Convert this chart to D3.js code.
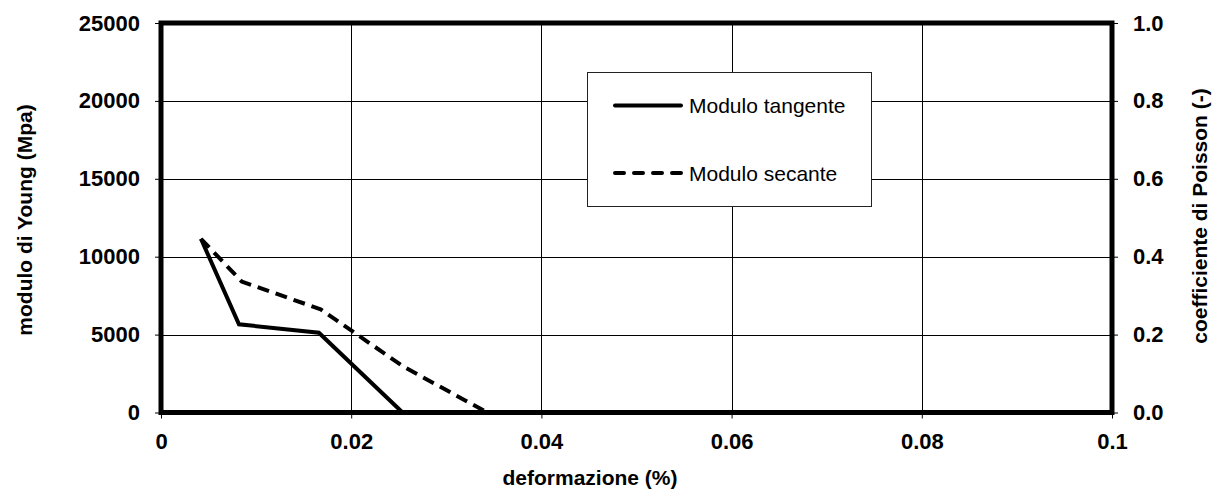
<!DOCTYPE html>
<html>
<head>
<meta charset="utf-8">
<script src="https://cdn.jsdelivr.net/npm/d3@7"></script>
<style>
  html, body { margin: 0; padding: 0; background: #fff; }
  svg { display: block; }
  text { font-family: "Liberation Sans", Arial, sans-serif; fill: #000; }
</style>
</head>
<body>
<svg id="chart" width="1212" height="490"></svg>
<script>
// ---- data ----
const xTicks = [0, 0.02, 0.04, 0.06, 0.08, 0.1];
const xTickLabels = ["0", "0.02", "0.04", "0.06", "0.08", "0.1"];
const yLeftTicks = [0, 5000, 10000, 15000, 20000, 25000];
const yRightTicks = [0, 0.2, 0.4, 0.6, 0.8, 1.0];
const yRightTickLabels = ["0.0", "0.2", "0.4", "0.6", "0.8", "1.0"];

const seriesNames = ["Modulo tangente", "Modulo secante"];
const tangenteX = [0.0042, 0.0082, 0.0166, 0.0254];
const tangenteY = [11150, 5660, 5120, 0];
const secanteX = [0.0042, 0.0085, 0.0168, 0.0255, 0.0343];
const secanteY = [11150, 8400, 6620, 2940, 0];

const xTitle = "deformazione (%)";
const yLeftTitle = "modulo di Young (Mpa)";
const yRightTitle = "coefficiente di Poisson (-)";

// ---- layout ----
const svg = d3.select("#chart");
const L = 161, R = 1112, T = 23, B = 412.5;

const x = d3.scaleLinear().domain([0, 0.1]).range([L, R]);
const y = d3.scaleLinear().domain([0, 25000]).range([B, T]);
const y2 = d3.scaleLinear().domain([0, 1]).range([B, T]);

// gridlines
const grid = svg.append("g");
grid.selectAll("line.gx").data(xTicks.slice(1, -1)).join("line")
  .attr("x1", d => Math.round(x(d)) + 0.5).attr("x2", d => Math.round(x(d)) + 0.5)
  .attr("y1", T).attr("y2", B)
  .attr("stroke", "#000").attr("stroke-width", 1);
grid.selectAll("line.gy").data(yLeftTicks.slice(1, -1)).join("line")
  .attr("x1", L).attr("x2", R)
  .attr("y1", d => Math.round(y(d)) + 0.5).attr("y2", d => Math.round(y(d)) + 0.5)
  .attr("stroke", "#000").attr("stroke-width", 1);

// axes
const fontTick = 22;
const xAxis = svg.append("g").attr("transform", `translate(0,${B})`)
  .call(d3.axisBottom(x).tickValues(xTicks).tickFormat((d, i) => xTickLabels[i]).tickSize(6).tickPadding(15));
const yAxis = svg.append("g").attr("transform", `translate(${L},0)`)
  .call(d3.axisLeft(y).tickValues(yLeftTicks).tickFormat(d3.format("d")).tickSize(6).tickPadding(15));
const yAxis2 = svg.append("g").attr("transform", `translate(${R},0)`)
  .call(d3.axisRight(y2).tickValues(yRightTicks).tickFormat((d, i) => yRightTickLabels[i]).tickSize(6).tickPadding(15));
[xAxis, yAxis, yAxis2].forEach(a => {
  a.select(".domain").remove();
  a.selectAll(".tick line").attr("stroke", "#000").attr("stroke-width", 1);
  a.selectAll(".tick text").attr("font-size", fontTick).attr("font-weight", "bold")
    .attr("font-family", "'Liberation Sans', Arial, sans-serif").attr("fill", "#000");
});

// series
const line = d3.line().x(d => x(d[0])).y(d => y(d[1]));
const tanData = tangenteX.map((v, i) => [v, tangenteY[i]]);
const secData = secanteX.map((v, i) => [v, secanteY[i]]);

svg.append("path").datum(tanData).attr("d", line)
  .attr("fill", "none").attr("stroke", "#000").attr("stroke-width", 4)
  .attr("stroke-linejoin", "miter");
svg.append("path").datum(secData).attr("d", line)
  .attr("fill", "none").attr("stroke", "#000").attr("stroke-width", 4)
  .attr("stroke-dasharray", "12,7").attr("stroke-linejoin", "round");

// frame
svg.append("rect").attr("x", L).attr("y", T).attr("width", R - L).attr("height", B - T)
  .attr("fill", "none").attr("stroke", "#000").attr("stroke-width", 5);

// legend
const lg = svg.append("g");
lg.append("rect").attr("x", 587.5).attr("y", 72.5).attr("width", 284).attr("height", 134)
  .attr("fill", "#fff").attr("stroke", "#222").attr("stroke-width", 1);
const legY = [105.5, 173];
seriesNames.forEach((name, i) => {
  lg.append("line").attr("x1", 615).attr("x2", 681).attr("y1", legY[i]).attr("y2", legY[i])
    .attr("stroke", "#000").attr("stroke-width", 4).attr("stroke-linecap", "round")
    .attr("stroke-dasharray", i === 1 ? "9,10" : null);
  lg.append("text").attr("x", 689).attr("y", legY[i] + 7.5)
    .attr("font-size", 21).text(name);
});

// titles
svg.append("text").attr("x", 590).attr("y", 485).attr("text-anchor", "middle")
  .attr("font-size", 21).attr("font-weight", "bold").text(xTitle);
svg.append("text").attr("transform", "translate(32,220) rotate(-90)").attr("text-anchor", "middle")
  .attr("font-size", 21).attr("font-weight", "bold").text(yLeftTitle);
svg.append("text").attr("transform", "translate(1207,216) rotate(-90)").attr("text-anchor", "middle")
  .attr("font-size", 21).attr("font-weight", "bold").text(yRightTitle);
</script>
</body>
</html>
